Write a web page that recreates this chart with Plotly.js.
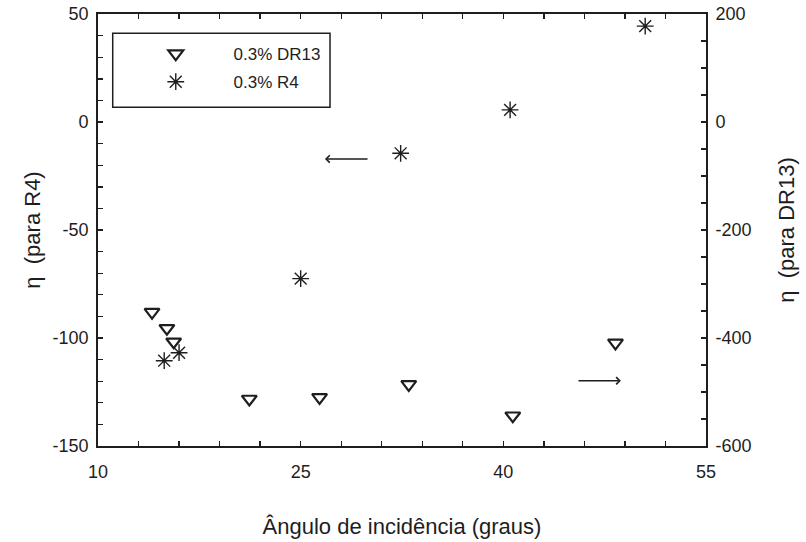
<!DOCTYPE html>
<html>
<head>
<meta charset="utf-8">
<script src="https://cdn.plot.ly/plotly-3.0.1.min.js"></script>
<style>html,body{margin:0;padding:0;background:#fff;}#chart{width:806px;height:542px;}</style>
</head>
<body>
<div id="chart"></div>
<script>
// DR13 series (right axis)
const dr13Angle = [14.0, 15.1, 15.6, 21.2, 26.4, 33.0, 40.7, 48.3];
const dr13Eta   = [-352, -382, -407, -513, -510, -486, -544, -409];
// R4 series (left axis)
const r4Angle = [14.9, 16.0, 25.0, 32.4, 40.5, 50.5];
const r4Eta   = [-110.5, -106.8, -72.5, -14.5, 5.6, 44.4];
// Tick labels
const xTickVals = [10, 25, 40, 55];
const xTickText = ['10', '25', '40', '55'];
const yTickVals = [-150, -100, -50, 0, 50];
const yTickText = ['-150', '-100', '-50', '0', '50'];
const y2TickVals = [-600, -400, -200, 0, 200];
const y2TickText = ['-600', '-400', '-200', '0', '200'];
// Labels
const seriesNames = ['0.3% DR13', '0.3% R4'];
const xTitle = 'Ângulo de incidência (graus)';
const yTitle = 'η  (para R4)';
const y2Title = 'η  (para DR13)';

const font = 'Liberation Sans, Arial, Helvetica, sans-serif';
const ink = '#1e1e1e';
const pad = '\u00a0'.repeat(8);

const traces = [
  {x: dr13Angle, y: dr13Eta, yaxis: 'y2', type: 'scatter', mode: 'markers',
   name: pad + seriesNames[0], legendgroup: 'a',
   marker: {symbol: 'triangle-down-open', size: 13, color: ink, line: {width: 2.2, color: ink}}},
  {x: r4Angle, y: r4Eta, yaxis: 'y', type: 'scatter', mode: 'markers',
   name: pad + seriesNames[1], legendgroup: 'b',
   marker: {symbol: 'asterisk-open', size: 14, color: ink, line: {width: 1.4, color: ink}}}
];

const axCommon = {
  showgrid: false, zeroline: false, showline: true, linecolor: ink, linewidth: 1.8,
  ticks: 'inside', ticklen: 5, tickwidth: 1.4, tickcolor: ink, tickmode: 'array',
  tickfont: {family: font, size: 18, color: ink}
};
const minorCommon = {ticks: 'inside', ticklen: 5, tickwidth: 1.4, tickcolor: ink, tickmode: 'linear'};

const layout = {
  width: 806, height: 542,
  margin: {l: 98, r: 100, t: 14, b: 96},
  paper_bgcolor: '#fff', plot_bgcolor: '#fff',
  font: {family: font, color: ink},
  showlegend: true,
  legend: {x: 0.095, y: 0.949, xanchor: 'left', yanchor: 'top',
           bgcolor: 'rgba(0,0,0,0)', borderwidth: 0, tracegroupgap: 3,
           font: {family: font, size: 17, color: ink}},
  xaxis: Object.assign({}, axCommon, {
    range: [10, 55], tickvals: xTickVals, ticktext: xTickText, mirror: 'ticks',
    minor: Object.assign({tick0: 10, dtick: 3}, minorCommon),
    ticklabelstandoff: 9,
    title: {text: xTitle, font: {family: font, size: 22, color: ink}, standoff: 37}
  }),
  yaxis: Object.assign({}, axCommon, {
    range: [-150, 50], tickvals: yTickVals, ticktext: yTickText, mirror: true,
    minor: Object.assign({tick0: 0, dtick: 10}, minorCommon),
    ticklabelstandoff: 4,
    title: {text: yTitle, font: {family: font, size: 22, color: ink}, standoff: 6}
  }),
  yaxis2: Object.assign({}, axCommon, {
    range: [-600, 200], tickvals: y2TickVals, ticktext: y2TickText, overlaying: 'y', side: 'right',
    minor: Object.assign({tick0: 0, dtick: 50}, minorCommon),
    ticklabelstandoff: 4,
    title: {text: y2Title, font: {family: font, size: 22, color: ink}, standoff: 28}
  }),
  shapes: [
    {type: 'rect', xref: 'paper', yref: 'paper', x0: 0.0242, x1: 0.3816, y0: 0.784, y1: 0.9553,
     line: {color: ink, width: 1.5}, fillcolor: 'rgba(0,0,0,0)'}
  ],
  annotations: [
    {x: 26.8, y: -17.1, ax: 30.06, ay: -17.1, xref: 'x', yref: 'y', axref: 'x', ayref: 'y',
     text: '', showarrow: true, arrowhead: 4, arrowsize: 1, arrowwidth: 1.4, arrowcolor: ink},
    {x: 48.7, y: -119.8, ax: 45.45, ay: -119.8, xref: 'x', yref: 'y', axref: 'x', ayref: 'y',
     text: '', showarrow: true, arrowhead: 4, arrowsize: 1, arrowwidth: 1.4, arrowcolor: ink}
  ]
};

Plotly.newPlot('chart', traces, layout, {displayModeBar: false, staticPlot: true});
</script>
</body>
</html>
